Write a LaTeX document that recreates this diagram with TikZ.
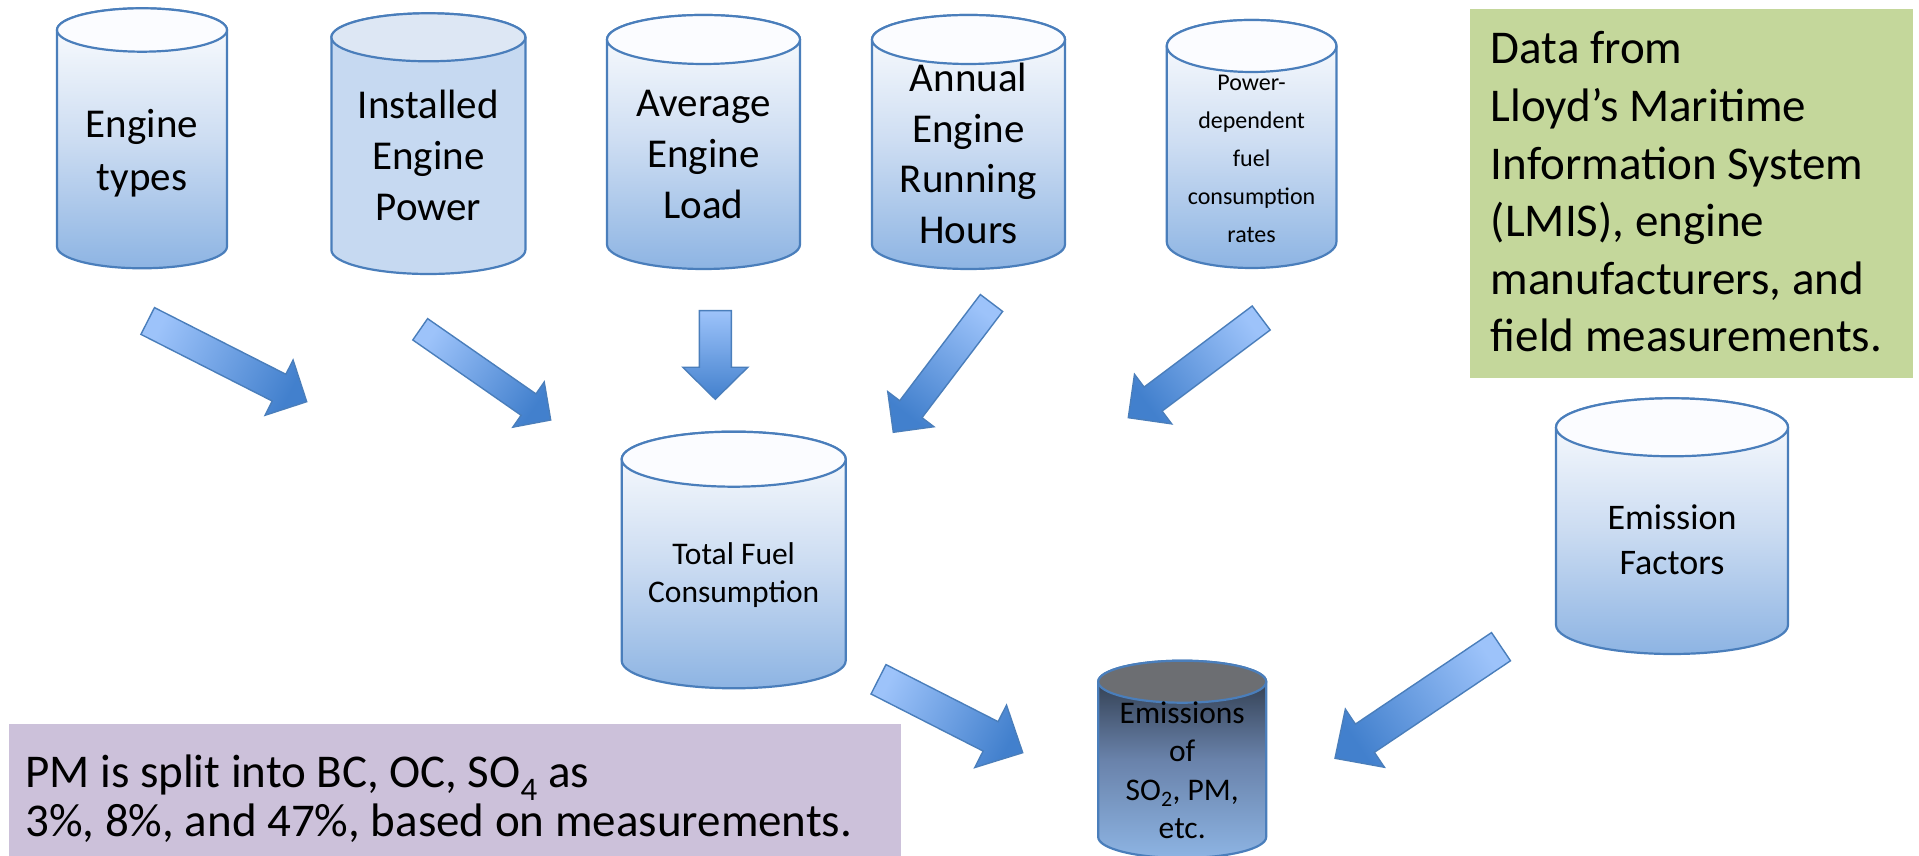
\documentclass[tikz,border=0pt]{standalone}
\usepackage{fontspec}
\setmainfont{Carlito}
\usetikzlibrary{calc}
\definecolor{cylline}{RGB}{74,126,187}
\definecolor{cylbot}{RGB}{141,180,227}
\definecolor{cylmid}{RGB}{205,221,242}
\definecolor{cyltop}{RGB}{251,252,255}
\definecolor{instbody}{RGB}{198,217,241}
\definecolor{insttop}{RGB}{221,231,244}
\definecolor{emistop}{RGB}{38,48,62}
\definecolor{emismid}{RGB}{105,130,170}
\definecolor{emisgray}{RGB}{108,110,114}
\definecolor{arrowlight}{RGB}{157,195,250}
\definecolor{arrowdark}{RGB}{66,128,205}
\definecolor{greenbox}{RGB}{196,215,155}
\definecolor{purplebox}{RGB}{204,193,218}
\tikzset{
  cylbody/.style={draw=cylline, line width=2.2pt, top color=white, bottom color=cylbot, middle color=cylmid},
  cylcap/.style={draw=cylline, line width=2.2pt, fill=cyltop},
  instbodystyle/.style={draw=cylline, line width=2.2pt, fill=instbody},
  instcapstyle/.style={draw=cylline, line width=2.2pt, fill=insttop},
  emisbodystyle/.style={draw=cylline, line width=2.2pt, top color=emistop, bottom color=cylbot, middle color=emismid},
  emiscapstyle/.style={draw=cylline, line width=2.2pt, fill=emisgray},
  blockarrowstyle/.style={draw=cylline, line width=1.4pt, line join=miter},
  lbl/.style={align=center, inner sep=0pt, text=black, anchor=base},
}
% cx, topY, botY, rx, ry, bodystyle, capstyle
\newcommand{\drawcyl}[7]{%
  \path[#6] (#1-#4,#2-#5) -- (#1-#4,#3+#5)
     arc[start angle=180,end angle=360,x radius=#4,y radius=#5]
     -- (#1+#4,#2-#5)
     arc[start angle=0,end angle=180,x radius=#4,y radius=#5] -- cycle;
  \path[#7] (#1,#2-#5) ellipse[x radius=#4,y radius=#5];
}
% tail, tip, half shaft, half head, head length, shading angle
\newcommand{\blkarrow}[6]{%
  \coordinate (tmpB) at ($(#2)!#5!(#1)$);
  \path[blockarrowstyle, top color=arrowlight, bottom color=arrowdark, shading angle=#6]
    ($(#1)!#3!90:(#2)$) -- ($(tmpB)!#3!90:(#2)$) -- ($(tmpB)!#4!90:(#2)$)
    -- (#2) -- ($(tmpB)!#4!-90:(#2)$) -- ($(tmpB)!#3!-90:(#2)$)
    -- ($(#1)!#3!-90:(#2)$) -- cycle;
}
\begin{document}
\begin{tikzpicture}[x=1pt,y=1pt]
\useasboundingbox (0,0) rectangle (1919,856);
\clip (0,0) rectangle (1919,856);

% cylinders
\drawcyl{142}{847.7}{587.7}{85}{21.7}{cylbody}{cylcap}
\drawcyl{428.4}{842.7}{582}{97}{24}{instbodystyle}{instcapstyle}
\drawcyl{703.5}{841}{587}{96.5}{24.5}{cylbody}{cylcap}
\drawcyl{968.5}{841}{587}{96.5}{24.5}{cylbody}{cylcap}
\drawcyl{1251.6}{836}{588}{84.8}{26}{cylbody}{cylcap}
\drawcyl{733.7}{424.3}{167.7}{112}{27.5}{cylbody}{cylcap}
\drawcyl{1672}{457.7}{202}{116}{29}{cylbody}{cylcap}
\drawcyl{1182.2}{195.3}{-2}{84}{21}{emisbodystyle}{emiscapstyle}

% labels (anchor=base is the baseline of the last line)
\node[lbl, font=\fontsize{41}{53}\selectfont] (types) at (142,665) {Engine\\types};
\node[lbl, font=\fontsize{41}{51}\selectfont] (power) at (428.4,635.7) {Installed\\Engine\\Power};
\node[lbl, font=\fontsize{41}{51}\selectfont] (load) at (703.5,637.3) {Average\\Engine\\Load};
\node[lbl, font=\fontsize{41}{50.5}\selectfont] (hours) at (968.5,612.8) {Annual\\Engine\\Running\\Hours};
\node[lbl, font=\fontsize{24}{38}\selectfont] (rates) at (1251.6,613.3) {Power-\\dependent\\fuel\\consumption\\rates};
\node[lbl, font=\fontsize{31.5}{38}\selectfont] (fuel) at (733.7,253) {Total Fuel\\Consumption};
\node[lbl, font=\fontsize{36}{45}\selectfont] (factors) at (1672,281) {Emission\\Factors};
\node[lbl, font=\fontsize{31.5}{38.5}\selectfont] (emis) at (1182.2,17.2) {Emissions\\of\\SO\textsubscript{2}, PM,\\etc.};

% boxes
\fill[greenbox] (1470,478.3) rectangle (1913,846.7);
\node[align=left, inner sep=0pt, anchor=base west, font=\fontsize{47}{57.6}\selectfont] (source) at (1490.7,504)
  {Data from\\Lloyd’s Maritime\\Information System\\(LMIS), engine\\manufacturers, and\\field measurements.};
\fill[purplebox] (9,0) rectangle (900.7,132);
\node[align=left, inner sep=0pt, anchor=base west, font=\fontsize{47}{49}\selectfont] (split) at (25,19)
  {PM is split into BC, OC, SO\textsubscript{4} as\\3\%, 8\%, and 47\%, based on measurements.};

% arrows
\coordinate (a1t) at (147.7,535);   \coordinate (a1p) at (306.7,454.3);
\coordinate (a2t) at (420.2,526.7); \coordinate (a2p) at (550.7,436);
\coordinate (a3t) at (715.3,545.3); \coordinate (a3p) at (715.3,456.7);
\coordinate (a4t) at (991.5,553);   \coordinate (a4p) at (893.3,423.7);
\coordinate (a5t) at (1261.2,538);  \coordinate (a5p) at (1128.3,438.3);
\coordinate (a6t) at (878.5,176.7); \coordinate (a6p) at (1022.7,103.3);
\coordinate (a7t) at (1501,209.3);  \coordinate (a7p) at (1335,97.7);
\blkarrow{a1t}{a1p}{15pt}{31pt}{31pt}{63.1}
\blkarrow{a2t}{a2p}{13pt}{27.5pt}{27pt}{55.2}
\blkarrow{a3t}{a3p}{16pt}{32.5pt}{32pt}{0}
\blkarrow{a4t}{a4p}{14pt}{29pt}{29pt}{-37.2}
\blkarrow{a5t}{a5p}{15pt}{31pt}{31pt}{-53.1}
\blkarrow{a6t}{a6p}{16.5pt}{35pt}{36pt}{63}
\blkarrow{a7t}{a7p}{17pt}{35pt}{36pt}{-56.1}
\end{tikzpicture}
\end{document}
